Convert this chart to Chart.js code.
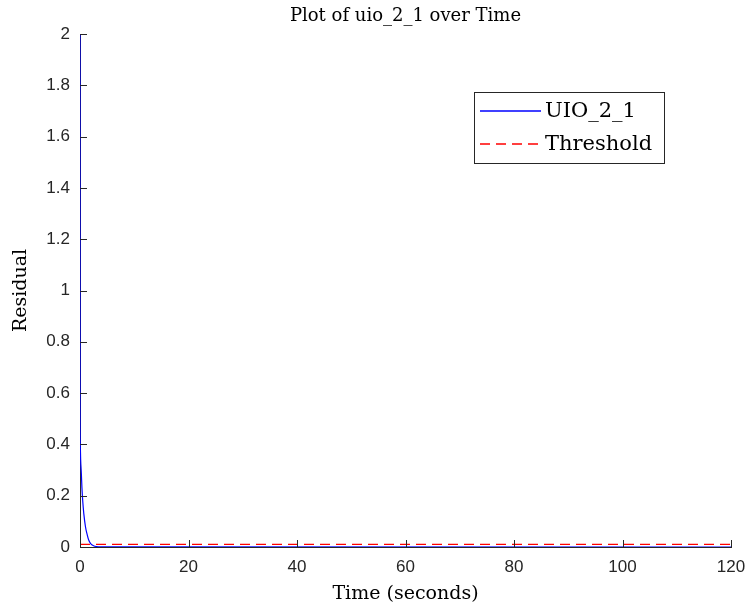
<!DOCTYPE html>
<html>
<head>
<meta charset="utf-8">
<script src="https://cdn.jsdelivr.net/npm/chart.js@4.4.1/dist/chart.umd.min.js"></script>
<style>
  html, body { margin: 0; padding: 0; background: #fff; }
  #wrap { width: 749px; height: 609px; }
</style>
</head>
<body>
<div id="wrap"><canvas id="chartResidual" width="749" height="609"></canvas></div>
<script>
// datos
var timeSec     = [0, 0.01, 0.05, 0.12, 0.24, 0.36, 0.5, 0.7, 1.0, 1.3, 1.6, 2.0, 2.5, 3.0, 4.0, 120];
var uioResidual = [2, 0.55, 0.40, 0.34, 0.29, 0.23, 0.18, 0.13, 0.08, 0.05, 0.027, 0.012, 0.005, 0.002, 0.0005, 0];
var thresholdTime  = [0, 120];
var thresholdValue = [0.01, 0.01];
var xTicks = [0, 20, 40, 60, 80, 100, 120];
var yTicks = [0, 0.2, 0.4, 0.6, 0.8, 1, 1.2, 1.4, 1.6, 1.8, 2];

var AXIS = '#262626';
var SERIF = "'DejaVu Serif','Liberation Serif',serif";
var SANS = "'Liberation Sans','DejaVu Sans',sans-serif";
var COL_UIO = '#0000ff';
var COL_THR = '#ff0000';

function toPoints(xs, ys) {
    return xs.map(function (x, i) { return { x: x, y: ys[i] }; });
}

// ── título, ticks hacia adentro (estilo MATLAB) y leyenda interna ─────────
var matlabLook = {
    id: 'matlabLook',
    afterDraw: function (chart) {
        var c = chart.ctx, a = chart.chartArea;
        var sx = chart.scales.x, sy = chart.scales.y;
        c.save();

        // título centrado sobre el área de trazado
        c.fillStyle = '#000';
        c.font = '18px ' + SERIF;
        c.textAlign = 'center';
        c.textBaseline = 'middle';
        c.fillText('Plot of uio_2_1 over Time', (a.left + a.right) / 2, 16);
        c.textAlign = 'left';

        c.strokeStyle = AXIS;
        c.lineWidth = 1;
        c.beginPath();
        xTicks.forEach(function (v) {
            var px = Math.round(sx.getPixelForValue(v)) + 0.5;
            c.moveTo(px, a.bottom);
            c.lineTo(px, a.bottom - 7);
        });
        yTicks.forEach(function (v) {
            var py = Math.round(sy.getPixelForValue(v)) + 0.5;
            c.moveTo(a.left, py);
            c.lineTo(a.left + 7, py);
        });
        c.stroke();

        // leyenda
        var bx = 474.5, by = 92.5, bw = 190, bh = 71;
        c.fillStyle = '#fff';
        c.fillRect(bx, by, bw, bh);
        c.strokeStyle = AXIS;
        c.strokeRect(bx, by, bw, bh);
        c.font = '21px ' + SERIF;
        c.textBaseline = 'middle';
        var items = [
            { label: chart.data.datasets[0].label, color: COL_UIO, dash: [] },
            { label: chart.data.datasets[1].label, color: COL_THR, dash: [10, 6] }
        ];
        items.forEach(function (it, i) {
            var y = by + 18 + i * 33;
            c.beginPath();
            c.strokeStyle = it.color;
            c.lineWidth = 1.3;
            c.setLineDash(it.dash);
            c.moveTo(480, y + 0.5);
            c.lineTo(541, y + 0.5);
            c.stroke();
            c.setLineDash([]);
            c.fillStyle = '#000';
            c.fillText(it.label, 545, y + 1);
        });
        c.restore();
    }
};

new Chart(document.getElementById('chartResidual'), {
    type: 'line',
    data: {
        datasets: [
            {
                label: 'UIO_2_1',
                data: toPoints(timeSec, uioResidual),
                borderColor: COL_UIO,
                borderWidth: 1.2,
                pointRadius: 0,
                cubicInterpolationMode: 'monotone',
                fill: false
            },
            {
                label: 'Threshold',
                data: toPoints(thresholdTime, thresholdValue),
                borderColor: COL_THR,
                borderWidth: 1.3,
                borderDash: [10, 6],
                pointRadius: 0,
                fill: false
            }
        ]
    },
    options: {
        responsive: false,
        animation: false,
        layout: { padding: { left: 0, right: 18, top: 34, bottom: 0 } },
        plugins: {
            legend: { display: false },
            tooltip: { enabled: false },
            title: { display: false }
        },
        scales: {
            x: {
                type: 'linear',
                min: 0, max: 120,
                afterFit: function (s) { s.height = 62; s.paddingRight = 0; s.paddingLeft = 0; },
                afterBuildTicks: function (s) { s.ticks = xTicks.map(function (v) { return { value: v }; }); },
                grid: { display: false, drawTicks: false },
                border: { display: true, color: AXIS, width: 1 },
                ticks: { color: AXIS, font: { family: SANS, size: 17 }, padding: 10, maxRotation: 0 },
                title: { display: true, text: 'Time (seconds)', color: '#000', font: { family: SERIF, size: 19 }, padding: { top: 2 } }
            },
            y: {
                type: 'linear',
                min: 0, max: 2,
                afterFit: function (s) { s.width = 80; s.paddingTop = 0; s.paddingBottom = 0; },
                afterBuildTicks: function (s) { s.ticks = yTicks.map(function (v) { return { value: v }; }); },
                grid: { display: false, drawTicks: false },
                border: { display: true, color: AXIS, width: 1 },
                ticks: {
                    color: AXIS, font: { family: SANS, size: 17 }, padding: 10,
                    callback: function (v) { return String(Number(v.toFixed(1))); }
                },
                title: { display: true, text: 'Residual', color: '#000', font: { family: SERIF, size: 19 }, padding: { top: 10, bottom: 0 } }
            }
        }
    },
    plugins: [matlabLook]
});
</script>
</body>
</html>
